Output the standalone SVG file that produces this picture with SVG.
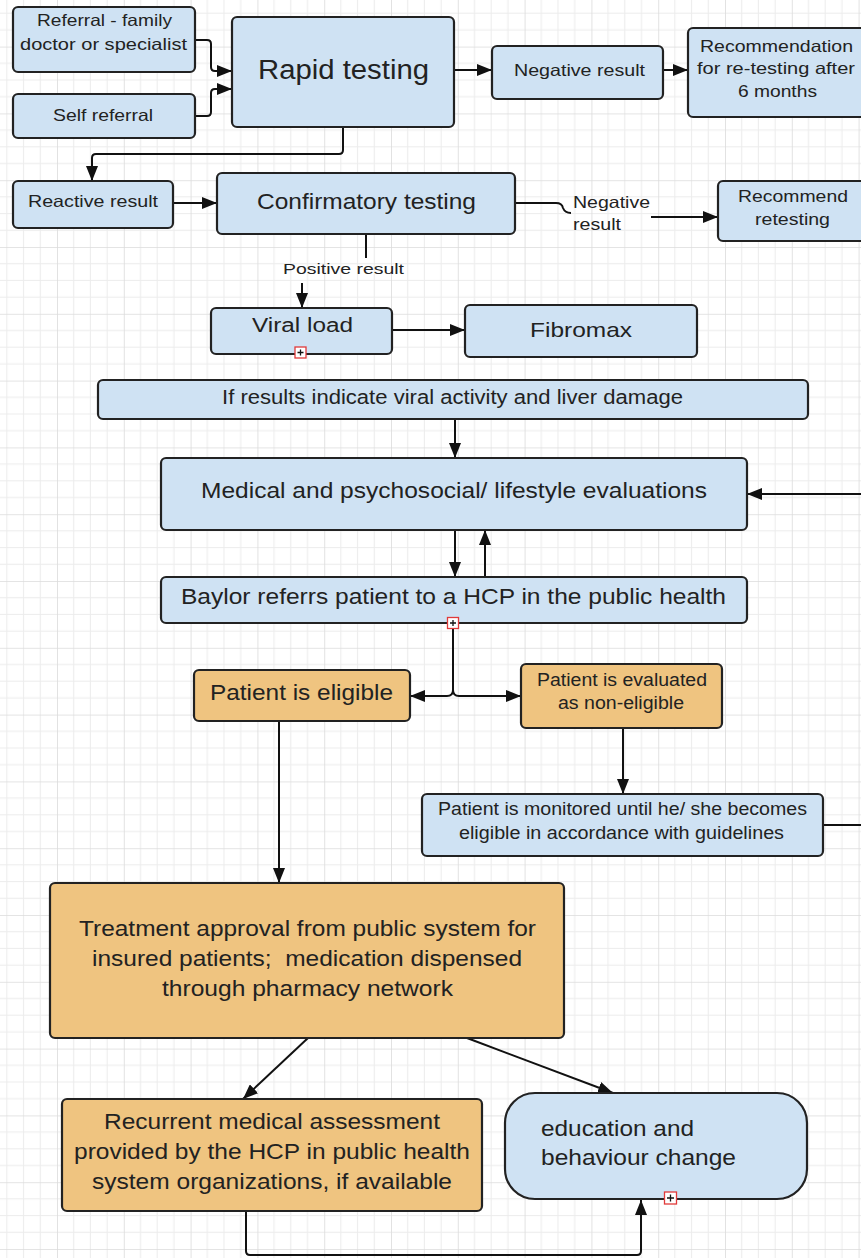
<svg xmlns="http://www.w3.org/2000/svg" width="861" height="1258" viewBox="0 0 861 1258">
<defs>
<pattern id="grid" patternUnits="userSpaceOnUse" x="57" y="247" width="66.8" height="66.8">
<rect width="66.8" height="66.8" fill="#ffffff"/>
<path d="M16.7,0V66.8M33.4,0V66.8M50.1,0V66.8M0,16.7H66.8M0,33.4H66.8M0,50.1H66.8" stroke="#ececec" stroke-width="1" fill="none"/>
<path d="M0,0V66.8M0,0H66.8" stroke="#dcdcdc" stroke-width="1.6" fill="none"/>
</pattern>
<marker id="arr" markerUnits="userSpaceOnUse" markerWidth="15" markerHeight="12" refX="15" refY="6" orient="auto">
<path d="M0,0 L15,6 L0,12 z" fill="#111"/>
</marker>
</defs>
<style>
.b{fill:#cfe2f3;stroke:#222;stroke-width:2.2}
.o{fill:#efc480;stroke:#222;stroke-width:2.2}
.t{font-family:"Liberation Sans",Arial,sans-serif;fill:#222;text-anchor:middle}
.l{text-anchor:start}
.c{fill:none;stroke:#111;stroke-width:2}
.a{marker-end:url(#arr)}
.pb{fill:#fff;stroke:#e03a3a;stroke-width:1.3}
.pp{stroke:#111;stroke-width:1.3}
</style>
<rect width="861" height="1258" fill="url(#grid)"/>

<g id="connectors">
<path class="c a" d="M195,40 H207 Q211,40 211,44 V67 Q211,71 215,71 H232"/>
<path class="c a" d="M195,116 H207 Q211,116 211,112 V93 Q211,89 215,89 H232"/>
<path class="c a" d="M454,70 H492"/>
<path class="c a" d="M663,70 H688"/>
<path class="c a" d="M343,127 V150 Q343,154 339,154 H96 Q92,154 92,158 V181"/>
<path class="c a" d="M173,203 H217"/>
<path class="c" d="M515,203 H556 Q562,203 563,208 Q565,213 571,213"/>
<path class="c a" d="M651,217 H718"/>
<path class="c" d="M366,234 V258"/>
<path class="c a" d="M302,283 V308"/>
<path class="c a" d="M392,330 H465"/>
<path class="c a" d="M455,420 V458"/>
<path class="c a" d="M861,494 H747"/>
<path class="c a" d="M455,530 V577"/>
<path class="c a" d="M485,577 V530"/>
<path class="c a" d="M453,629 V690 Q453,696 447,696 H410"/>
<path class="c a" d="M453,690 Q453,696 459,696 H521"/>
<path class="c a" d="M623,728 V794"/>
<path class="c" d="M823,825 H861"/>
<path class="c a" d="M279,722 V883"/>
<path class="c a" d="M308,1038 L243,1099"/>
<path class="c a" d="M467,1038 L613,1093"/>
<path class="c a" d="M246,1211 V1251 Q246,1255 250,1255 H637 Q641,1255 641,1251 V1200"/>
</g>

<g id="referral">
<rect class="b" x="13" y="7" width="182" height="65" rx="5"/>
<text class="t" x="104.5" y="26" font-size="16.5" textLength="135" lengthAdjust="spacingAndGlyphs">Referral - family</text>
<text class="t" x="103.5" y="50" font-size="16.5" textLength="167" lengthAdjust="spacingAndGlyphs">doctor or specialist</text>
</g>
<g id="self-referral">
<rect class="b" x="13" y="94" width="182" height="44" rx="5"/>
<text class="t" x="103" y="121" font-size="16.5" textLength="100" lengthAdjust="spacingAndGlyphs">Self referral</text>
</g>
<g id="rapid-testing">
<rect class="b" x="232" y="17" width="222" height="110" rx="5"/>
<text class="t" x="343.5" y="78.5" font-size="27" textLength="171" lengthAdjust="spacingAndGlyphs">Rapid testing</text>
</g>
<g id="negative-result">
<rect class="b" x="492" y="46" width="171" height="53" rx="5"/>
<text class="t" x="579.5" y="76" font-size="16.5" textLength="131" lengthAdjust="spacingAndGlyphs">Negative result</text>
</g>
<g id="recommendation">
<rect class="b" x="688" y="28" width="180" height="89" rx="5"/>
<text class="t" x="776.5" y="52" font-size="16.5" textLength="153" lengthAdjust="spacingAndGlyphs">Recommendation</text>
<text class="t" x="776" y="74" font-size="16.5" textLength="158" lengthAdjust="spacingAndGlyphs">for re-testing after</text>
<text class="t" x="777.5" y="97" font-size="16.5" textLength="79" lengthAdjust="spacingAndGlyphs">6 months</text>
</g>
<g id="reactive-result">
<rect class="b" x="13" y="181" width="160" height="47" rx="5"/>
<text class="t" x="93" y="207" font-size="16.5" textLength="130" lengthAdjust="spacingAndGlyphs">Reactive result</text>
</g>
<g id="confirmatory-testing">
<rect class="b" x="217" y="173" width="298" height="61" rx="5"/>
<text class="t" x="366.5" y="208.5" font-size="21.5" textLength="219" lengthAdjust="spacingAndGlyphs">Confirmatory testing</text>
</g>
<g id="negative-label">
<text class="t l" x="573" y="208" font-size="16.5" textLength="77" lengthAdjust="spacingAndGlyphs">Negative</text>
<text class="t l" x="573" y="230" font-size="16.5" textLength="48" lengthAdjust="spacingAndGlyphs">result</text>
</g>
<g id="recommend-retesting">
<rect class="b" x="718" y="181" width="150" height="60" rx="5"/>
<text class="t" x="793" y="202" font-size="16.5" textLength="110" lengthAdjust="spacingAndGlyphs">Recommend</text>
<text class="t" x="792.5" y="225" font-size="16.5" textLength="75" lengthAdjust="spacingAndGlyphs">retesting</text>
</g>
<g id="positive-label">
<text class="t" x="343.5" y="273.5" font-size="15.5" textLength="121" lengthAdjust="spacingAndGlyphs">Positive result</text>
</g>
<g id="viral-load">
<rect class="b" x="211" y="308" width="181" height="46" rx="5"/>
<text class="t" x="302.5" y="332" font-size="20" textLength="101" lengthAdjust="spacingAndGlyphs">Viral load</text>
<rect class="pb" x="295" y="347" width="11" height="11"/>
<path class="pp" d="M297.5,352.5H303.5M300.5,349.5V355.5"/>
</g>
<g id="fibromax">
<rect class="b" x="465" y="305" width="232" height="52" rx="5"/>
<text class="t" x="581" y="336.5" font-size="21" textLength="102" lengthAdjust="spacingAndGlyphs">Fibromax</text>
</g>
<g id="if-results">
<rect class="b" x="98" y="380" width="710" height="39" rx="5"/>
<text class="t" x="452.5" y="404" font-size="19.5" textLength="461" lengthAdjust="spacingAndGlyphs">If results indicate viral activity and liver damage</text>
</g>
<g id="medical-evaluations">
<rect class="b" x="161" y="458" width="586" height="72" rx="5"/>
<text class="t" x="454" y="497.5" font-size="22" textLength="506" lengthAdjust="spacingAndGlyphs">Medical and psychosocial/ lifestyle evaluations</text>
</g>
<g id="baylor-refers">
<rect class="b" x="161" y="577" width="586" height="46" rx="5"/>
<text class="t" x="453.5" y="603.5" font-size="22" textLength="545" lengthAdjust="spacingAndGlyphs">Baylor referrs patient to a HCP in the public health</text>
<rect class="pb" x="447.5" y="617.5" width="11" height="11"/>
<path class="pp" d="M450,623H456M453,620V626"/>
</g>
<g id="patient-eligible">
<rect class="o" x="194" y="670" width="216" height="51" rx="5"/>
<text class="t" x="301.5" y="699.5" font-size="22" textLength="183" lengthAdjust="spacingAndGlyphs">Patient is eligible</text>
</g>
<g id="patient-non-eligible">
<rect class="o" x="521" y="664" width="201" height="64" rx="5"/>
<text class="t" x="622" y="686" font-size="17.5" textLength="170" lengthAdjust="spacingAndGlyphs">Patient is evaluated</text>
<text class="t" x="621" y="709" font-size="17.5" textLength="126" lengthAdjust="spacingAndGlyphs">as non-eligible</text>
</g>
<g id="patient-monitored">
<rect class="b" x="422" y="794" width="401" height="62" rx="5"/>
<text class="t" x="622.5" y="815" font-size="17.5" textLength="369" lengthAdjust="spacingAndGlyphs">Patient is monitored until he/ she becomes</text>
<text class="t" x="621.5" y="839" font-size="17.5" textLength="325" lengthAdjust="spacingAndGlyphs">eligible in accordance with guidelines</text>
</g>
<g id="treatment-approval">
<rect class="o" x="50" y="883" width="514" height="155" rx="5"/>
<text class="t" x="307.5" y="935.5" font-size="21.5" textLength="457" lengthAdjust="spacingAndGlyphs">Treatment approval from public system for</text>
<text class="t" x="307" y="965.5" font-size="21.5" textLength="430" lengthAdjust="spacingAndGlyphs" style="white-space:pre">insured patients;  medication dispensed</text>
<text class="t" x="307.5" y="995.5" font-size="21.5" textLength="291" lengthAdjust="spacingAndGlyphs">through pharmacy network</text>
</g>
<g id="recurrent-assessment">
<rect class="o" x="62" y="1099" width="420" height="112" rx="5"/>
<text class="t" x="272" y="1128.5" font-size="21.5" textLength="336" lengthAdjust="spacingAndGlyphs">Recurrent medical assessment</text>
<text class="t" x="272" y="1158.5" font-size="21.5" textLength="396" lengthAdjust="spacingAndGlyphs">provided by the HCP in public health</text>
<text class="t" x="272" y="1188.5" font-size="21.5" textLength="360" lengthAdjust="spacingAndGlyphs">system organizations, if available</text>
</g>
<g id="education">
<rect class="b" x="505" y="1093" width="302" height="106" rx="30"/>
<text class="t l" x="541" y="1135.5" font-size="21.5" textLength="153" lengthAdjust="spacingAndGlyphs">education and</text>
<text class="t l" x="541" y="1164.5" font-size="21.5" textLength="195" lengthAdjust="spacingAndGlyphs">behaviour change</text>
<rect class="pb" x="664.5" y="1192" width="12" height="12"/>
<path class="pp" d="M667,1198H674M670.5,1194.5V1201.5"/>
</g>
</svg>
